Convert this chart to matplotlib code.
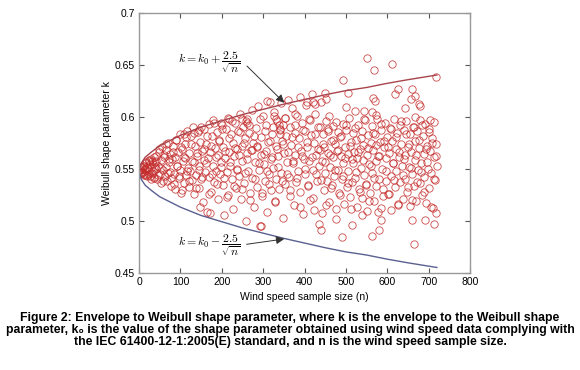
import matplotlib
matplotlib.use('Agg')
import matplotlib.pyplot as plt
import numpy as np

plt.rcParams['font.family'] = ['Liberation Sans', 'DejaVu Sans']
plt.rcParams['mathtext.fontset'] = 'cm'

# envelope curves
n_env = [0, 5, 15, 30, 50, 75, 100, 150, 200, 250, 300, 350, 400, 450, 500, 550, 600, 650, 720]
k_upper = [0.5475, 0.555, 0.561, 0.566, 0.572, 0.577, 0.582, 0.590, 0.596, 0.602, 0.607, 0.612,
           0.6165, 0.621, 0.625, 0.628, 0.632, 0.6355, 0.640]
k_lower = [0.5475, 0.540, 0.534, 0.529, 0.523, 0.518, 0.513, 0.505, 0.499, 0.493, 0.488, 0.483,
           0.4785, 0.474, 0.470, 0.467, 0.463, 0.4595, 0.455]

# dense start of the scatter (odd sample sizes 1..39)
n_start = np.arange(1, 40, 2)
k_start = [0.548, 0.550, 0.546, 0.552, 0.547, 0.544, 0.553, 0.549, 0.556, 0.543,
           0.551, 0.558, 0.545, 0.554, 0.540, 0.557, 0.548, 0.561, 0.542, 0.552]

# body of the scatter (even sample sizes 2..720)
n_body = np.arange(2, 722, 2)
k_body = [
    0.549, 0.547, 0.551, 0.546, 0.553, 0.545, 0.550, 0.555, 0.544, 0.552, 0.548, 0.557, 0.543, 0.551, 0.559, 0.546, 0.554, 0.541, 0.556, 0.550,
    0.562, 0.540, 0.553, 0.566, 0.545, 0.558, 0.536, 0.571, 0.549, 0.561, 0.543, 0.568, 0.552, 0.538, 0.575, 0.556, 0.547, 0.564, 0.533, 0.559,
    0.572, 0.545, 0.561, 0.530, 0.578, 0.553, 0.566, 0.541, 0.583, 0.549, 0.527, 0.569, 0.557, 0.536, 0.574, 0.560, 0.544, 0.586, 0.551, 0.532,
    0.565, 0.548, 0.581, 0.539, 0.590, 0.556, 0.526, 0.572, 0.544, 0.562, 0.585, 0.531, 0.553, 0.576, 0.540, 0.567, 0.518, 0.558, 0.588, 0.547,
    0.574, 0.508, 0.560, 0.593, 0.542, 0.566, 0.528, 0.581, 0.553, 0.597, 0.537, 0.570, 0.548, 0.585, 0.521, 0.563, 0.577, 0.545, 0.556, 0.592,
    0.534, 0.571, 0.505, 0.560, 0.588, 0.547, 0.599, 0.525, 0.566, 0.553, 0.583, 0.540, 0.575, 0.511, 0.562, 0.594, 0.531, 0.569, 0.550, 0.586,
    0.543, 0.603, 0.521, 0.572, 0.557, 0.590, 0.536, 0.579, 0.500, 0.565, 0.598, 0.548, 0.584, 0.527, 0.568, 0.606, 0.541, 0.575, 0.513, 0.556,
    0.589, 0.532, 0.571, 0.610, 0.549, 0.495, 0.580, 0.563, 0.524, 0.601, 0.554, 0.538, 0.592, 0.567, 0.508, 0.576, 0.545, 0.614, 0.559, 0.529,
    0.583, 0.551, 0.604, 0.519, 0.572, 0.540, 0.596, 0.562, 0.530, 0.587, 0.613, 0.546, 0.577, 0.503, 0.565, 0.599, 0.535, 0.581, 0.556, 0.616,
    0.542, 0.590, 0.524, 0.573, 0.608, 0.555, 0.515, 0.584, 0.563, 0.537, 0.601, 0.548, 0.579, 0.619, 0.528, 0.567, 0.594, 0.506, 0.559, 0.586,
    0.545, 0.611, 0.571, 0.533, 0.598, 0.557, 0.520, 0.582, 0.622, 0.549, 0.575, 0.510, 0.603, 0.563, 0.538, 0.590, 0.553, 0.497, 0.568, 0.614,
    0.557, 0.583, 0.529, 0.571, 0.546, 0.596, 0.538, 0.565, 0.588, 0.518, 0.552, 0.577, 0.534, 0.591, 0.561, 0.543, 0.574, 0.511, 0.567, 0.585,
    0.549, 0.527, 0.580, 0.562, 0.540, 0.593, 0.555, 0.516, 0.571, 0.587, 0.532, 0.564, 0.548, 0.599, 0.523, 0.576, 0.559, 0.537, 0.584, 0.566,
    0.541, 0.578, 0.513, 0.560, 0.592, 0.530, 0.569, 0.551, 0.586, 0.522, 0.573, 0.544, 0.597, 0.535, 0.563, 0.509, 0.582, 0.554, 0.527, 0.575,
    0.591, 0.546, 0.568, 0.519, 0.583, 0.557, 0.533, 0.598, 0.562, 0.540, 0.576, 0.512, 0.587, 0.550, 0.524, 0.571, 0.594, 0.538, 0.560, 0.580,
    0.526, 0.565, 0.589, 0.543, 0.510, 0.577, 0.555, 0.598, 0.532, 0.569, 0.548, 0.584, 0.516, 0.561, 0.592, 0.537, 0.574, 0.553, 0.521, 0.587,
    0.563, 0.540, 0.596, 0.528, 0.571, 0.552, 0.583, 0.514, 0.566, 0.545, 0.590, 0.533, 0.577, 0.558, 0.519, 0.586, 0.549, 0.570, 0.536, 0.597,
    0.555, 0.525, 0.581, 0.564, 0.542, 0.593, 0.517, 0.572, 0.550, 0.588, 0.531, 0.567, 0.546, 0.579, 0.512, 0.561, 0.595, 0.539, 0.574, 0.553,
]

# extra body points (sample sizes 41, 45, ..., 717)
n_body2 = np.arange(41, 720, 4)
k_body2 = [
    0.557, 0.544, 0.569, 0.551, 0.538, 0.563, 0.574, 0.546, 0.559, 0.541,
    0.566, 0.535, 0.578, 0.553, 0.543, 0.571, 0.529, 0.561, 0.580, 0.548,
    0.538, 0.574, 0.557, 0.584, 0.531, 0.565, 0.549, 0.590, 0.542, 0.569,
    0.555, 0.581, 0.526, 0.572, 0.545, 0.594, 0.561, 0.535, 0.578, 0.552,
    0.588, 0.541, 0.567, 0.523, 0.579, 0.556, 0.596, 0.533, 0.570, 0.549,
    0.563, 0.585, 0.530, 0.575, 0.546, 0.559, 0.592, 0.520, 0.568, 0.581,
    0.540, 0.572, 0.555, 0.598, 0.527, 0.564, 0.586, 0.548, 0.535, 0.577,
    0.561, 0.590, 0.518, 0.569, 0.552, 0.583, 0.538, 0.574, 0.599, 0.545,
    0.566, 0.529, 0.580, 0.557, 0.592, 0.541, 0.571, 0.513, 0.562, 0.587,
    0.550, 0.576, 0.534, 0.597, 0.561, 0.522, 0.583, 0.545, 0.569, 0.590,
    0.539, 0.574, 0.556, 0.515, 0.586, 0.563, 0.531, 0.578, 0.549, 0.595,
    0.568, 0.525, 0.581, 0.543, 0.560, 0.592, 0.536, 0.572, 0.511, 0.555,
    0.589, 0.547, 0.566, 0.528, 0.579, 0.558, 0.598, 0.534, 0.570, 0.519,
    0.553, 0.584, 0.541, 0.573, 0.508, 0.562, 0.593, 0.530, 0.577, 0.548,
    0.571, 0.526, 0.588, 0.555, 0.539, 0.580, 0.515, 0.566, 0.596, 0.544,
    0.559, 0.583, 0.532, 0.574, 0.551, 0.520, 0.590, 0.563, 0.537, 0.578,
    0.547, 0.592, 0.528, 0.569, 0.556, 0.585, 0.513, 0.575, 0.540, 0.562,
]

# outlying points read individually
n_edge = [439, 491, 514, 564, 580, 665, 475, 443, 539, 584, 659, 691, 713, 717,
          552, 611, 568, 494, 719, 449, 504, 405, 420, 426, 452, 627, 659, 619, 657, 666,
          565, 570, 677, 680, 378, 459, 522, 544, 563, 574, 642, 703, 667, 500,
          310, 109, 146, 218, 197, 250, 258, 262, 326, 330, 347, 339, 341,
          147, 171, 296]
k_edge = [0.491, 0.484, 0.496, 0.485, 0.491, 0.478, 0.502, 0.507, 0.505, 0.501, 0.501, 0.501, 0.497, 0.507,
          0.6565, 0.651, 0.645, 0.635, 0.638, 0.623, 0.623, 0.614, 0.614, 0.612, 0.6165, 0.627, 0.627, 0.622, 0.617, 0.620,
          0.618, 0.615, 0.612, 0.610, 0.603, 0.601, 0.605, 0.605, 0.604, 0.602, 0.608, 0.597, 0.600, 0.609,
          0.615, 0.583, 0.587, 0.598, 0.594, 0.598, 0.596, 0.594, 0.601, 0.598, 0.592, 0.592, 0.588,
          0.513, 0.5077, 0.495]

fig = plt.figure(figsize=(5.8, 3.7), dpi=100)
ax = fig.add_axes([0.2397, 0.263, 0.5706, 0.703])

mk = dict(linestyle='none', marker='o', markersize=5.3, markerfacecolor='none',
          markeredgecolor='#c42b2b', markeredgewidth=0.6, alpha=0.85)
ax.plot(n_body, k_body, **mk)
ax.plot(n_body2, k_body2, **mk)
ax.plot(n_start, k_start, **mk)
ax.plot(n_edge, k_edge, **mk)

ax.plot(n_env, k_upper, color='#a8444c', lw=1.0)
ax.plot(n_env, k_lower, color='#5a6090', lw=1.0)

ax.set_xlim(0, 800)
ax.set_ylim(0.45, 0.7)
ax.set_xticks(np.arange(0, 801, 100))
ax.set_yticks([0.45, 0.5, 0.55, 0.6, 0.65, 0.7])
ax.set_yticklabels(['0.45', '0.5', '0.55', '0.6', '0.65', '0.7'])
ax.tick_params(direction='in', top=True, right=True, length=3.5, width=0.8,
               labelsize=7.5, color='#555555', pad=3)
for s in ax.spines.values():
    s.set_color('#999999')
    s.set_linewidth(1.0)

ax.set_xlabel('Wind speed sample size (n)', fontsize=7.5, labelpad=4)
ax.set_ylabel('Weibull shape parameter k', fontsize=7.5, labelpad=2)

# envelope labels and arrows
ax.text(169, 0.652, r'$k = k_0 + \dfrac{2.5}{\sqrt{n}}$', fontsize=8.5, ha='center', va='center')
ax.text(169, 0.4766, r'$k = k_0 - \dfrac{2.5}{\sqrt{n}}$', fontsize=8.5, ha='center', va='center')
arrow = dict(arrowstyle='-|>', color='#333333', lw=0.7, mutation_scale=12, shrinkA=0, shrinkB=0)
ax.annotate('', xy=(351, 0.6133), xytext=(261, 0.6486), arrowprops=arrow)
ax.annotate('', xy=(351, 0.4824), xytext=(260, 0.4773), arrowprops=arrow)

cap = ('Figure 2: Envelope to Weibull shape parameter, where k is the envelope to the Weibull shape\n'
       'parameter, k\u2080 is the value of the shape parameter obtained using wind speed data complying with\n'
       'the IEC 61400-12-1:2005(E) standard, and n is the wind speed sample size.')
fig.text(0.5, 0.108, cap, ha='center', va='center', fontsize=8.8,
         fontweight='bold', linespacing=1.05)

fig.savefig('out.png', dpi=100, facecolor='white')
